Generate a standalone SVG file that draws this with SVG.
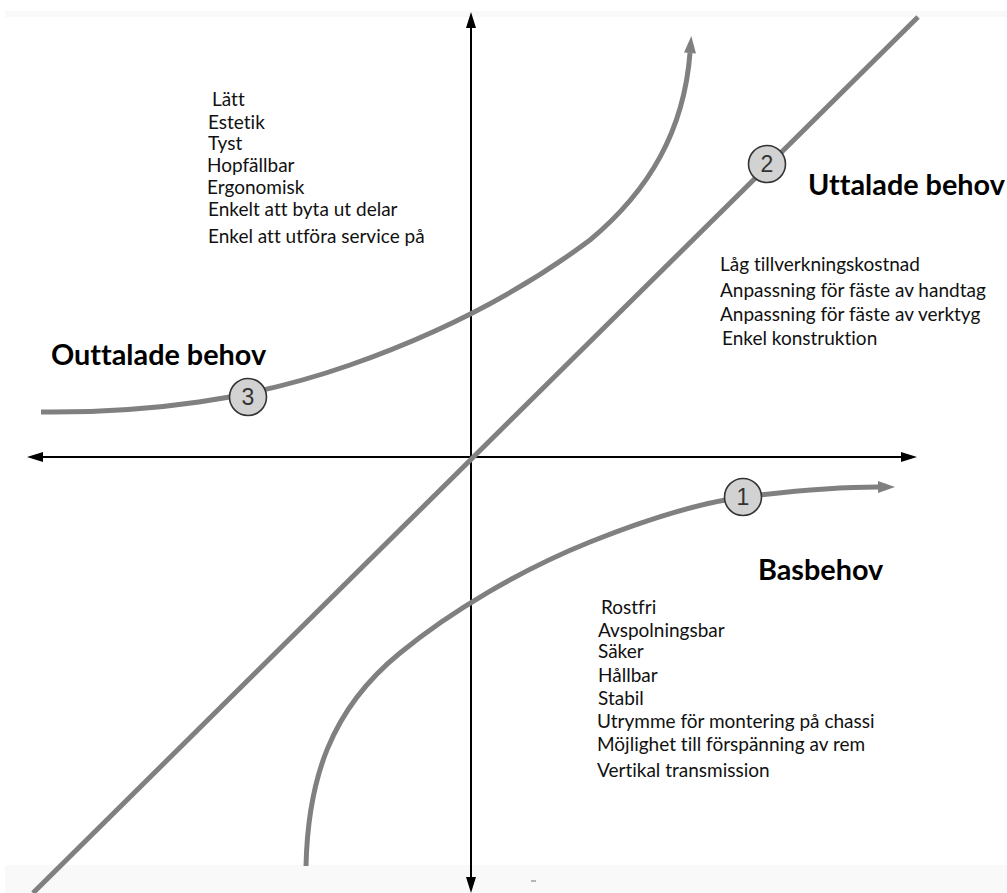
<svg xmlns="http://www.w3.org/2000/svg" width="1007" height="893" viewBox="0 0 1007 893">
<style>
.t,.h{font-variant-ligatures:none;font-feature-settings:"liga" 0,"clig" 0}
.t{font-family:Lato,"Open Sans","Liberation Sans",sans-serif;font-size:19px;fill:#111}
.h{font-family:Lato,"Open Sans","Liberation Sans",sans-serif;font-size:28.8px;font-weight:bold;fill:#000}
.g{fill:none;stroke:#808080;stroke-width:5}
.ax{stroke:#000;stroke-width:2;fill:none}
.c{fill:#d2d2d2;stroke:#333;stroke-width:1.6}
.n{font-family:"Liberation Sans",Arial,sans-serif;font-size:23px;fill:#333;text-anchor:middle}
</style>
<defs>
<marker id="ab" markerUnits="userSpaceOnUse" markerWidth="16" markerHeight="10" refX="0" refY="5" orient="auto-start-reverse" overflow="visible">
<path d="M0,0 L16,5 L0,10 z" fill="#000"/>
</marker>
<marker id="ag" markerUnits="userSpaceOnUse" markerWidth="17" markerHeight="12" refX="0" refY="6" orient="auto" overflow="visible">
<path d="M0,0 L17,6 L0,12 z" fill="#808080"/>
</marker>
</defs>
<rect x="0" y="0" width="1007" height="893" fill="#fff"/>
<rect x="5" y="11" width="1002" height="6" fill="#f9f9f9"/>
<rect x="5" y="865" width="1002" height="28" fill="#f9f9f9"/>
<g id="connectors">
<line class="ax" x1="471" y1="28" x2="471" y2="877" marker-start="url(#ab)" marker-end="url(#ab)"/>
<line class="ax" x1="43" y1="457" x2="901" y2="457" marker-start="url(#ab)" marker-end="url(#ab)"/>
<line class="g" x1="918" y1="17" x2="33" y2="893"/>
<path class="g" d="M41,412 C150,413 250,400 350,365 C450,330 530,285 590,240 C650,190 684,130 690,53" marker-end="url(#ag)"/>
<path class="g" d="M306,866 C308,780 330,710 400,653 C450,612 520,570 590,542 C650,518 700,503 743,497 C800,490 840,487 878,487" marker-end="url(#ag)"/>
<line x1="531" y1="881" x2="536" y2="881" stroke="#9aa0a8" stroke-width="1.5"/>
</g>
<g id="node-1"><circle class="c" cx="743" cy="497" r="18.5"/><text class="n" x="743" y="505">1</text></g>
<g id="node-2"><circle class="c" cx="767" cy="164" r="18.5"/><text class="n" x="767" y="172">2</text></g>
<g id="node-3"><circle class="c" cx="248" cy="397" r="18.5"/><text class="n" x="248" y="405">3</text></g>
<g id="outtalade">
<text class="h" x="51" y="365">Outtalade behov</text>
<text class="t" x="212" y="106">Lätt</text>
<text class="t" x="208" y="129">Estetik</text>
<text class="t" x="208" y="150">Tyst</text>
<text class="t" x="207" y="172">Hopfällbar</text>
<text class="t" x="207" y="194">Ergonomisk</text>
<text class="t" x="208" y="216">Enkelt att byta ut delar</text>
<text class="t" x="208" y="243">Enkel att utföra service på</text>
</g>
<g id="uttalade">
<text class="h" x="808" y="195">Uttalade behov</text>
<text class="t" x="720" y="271">Låg tillverkningskostnad</text>
<text class="t" x="720" y="297">Anpassning för fäste av handtag</text>
<text class="t" x="720" y="321">Anpassning för fäste av verktyg</text>
<text class="t" x="722" y="345">Enkel konstruktion</text>
</g>
<g id="basbehov">
<text class="h" x="758" y="580">Basbehov</text>
<text class="t" x="601" y="614">Rostfri</text>
<text class="t" x="598" y="637">Avspolningsbar</text>
<text class="t" x="598" y="658">Säker</text>
<text class="t" x="598" y="682">Hållbar</text>
<text class="t" x="598" y="705">Stabil</text>
<text class="t" x="597" y="728">Utrymme för montering på chassi</text>
<text class="t" x="597" y="751">Möjlighet till förspänning av rem</text>
<text class="t" x="597" y="777">Vertikal transmission</text>
</g>
</svg>
